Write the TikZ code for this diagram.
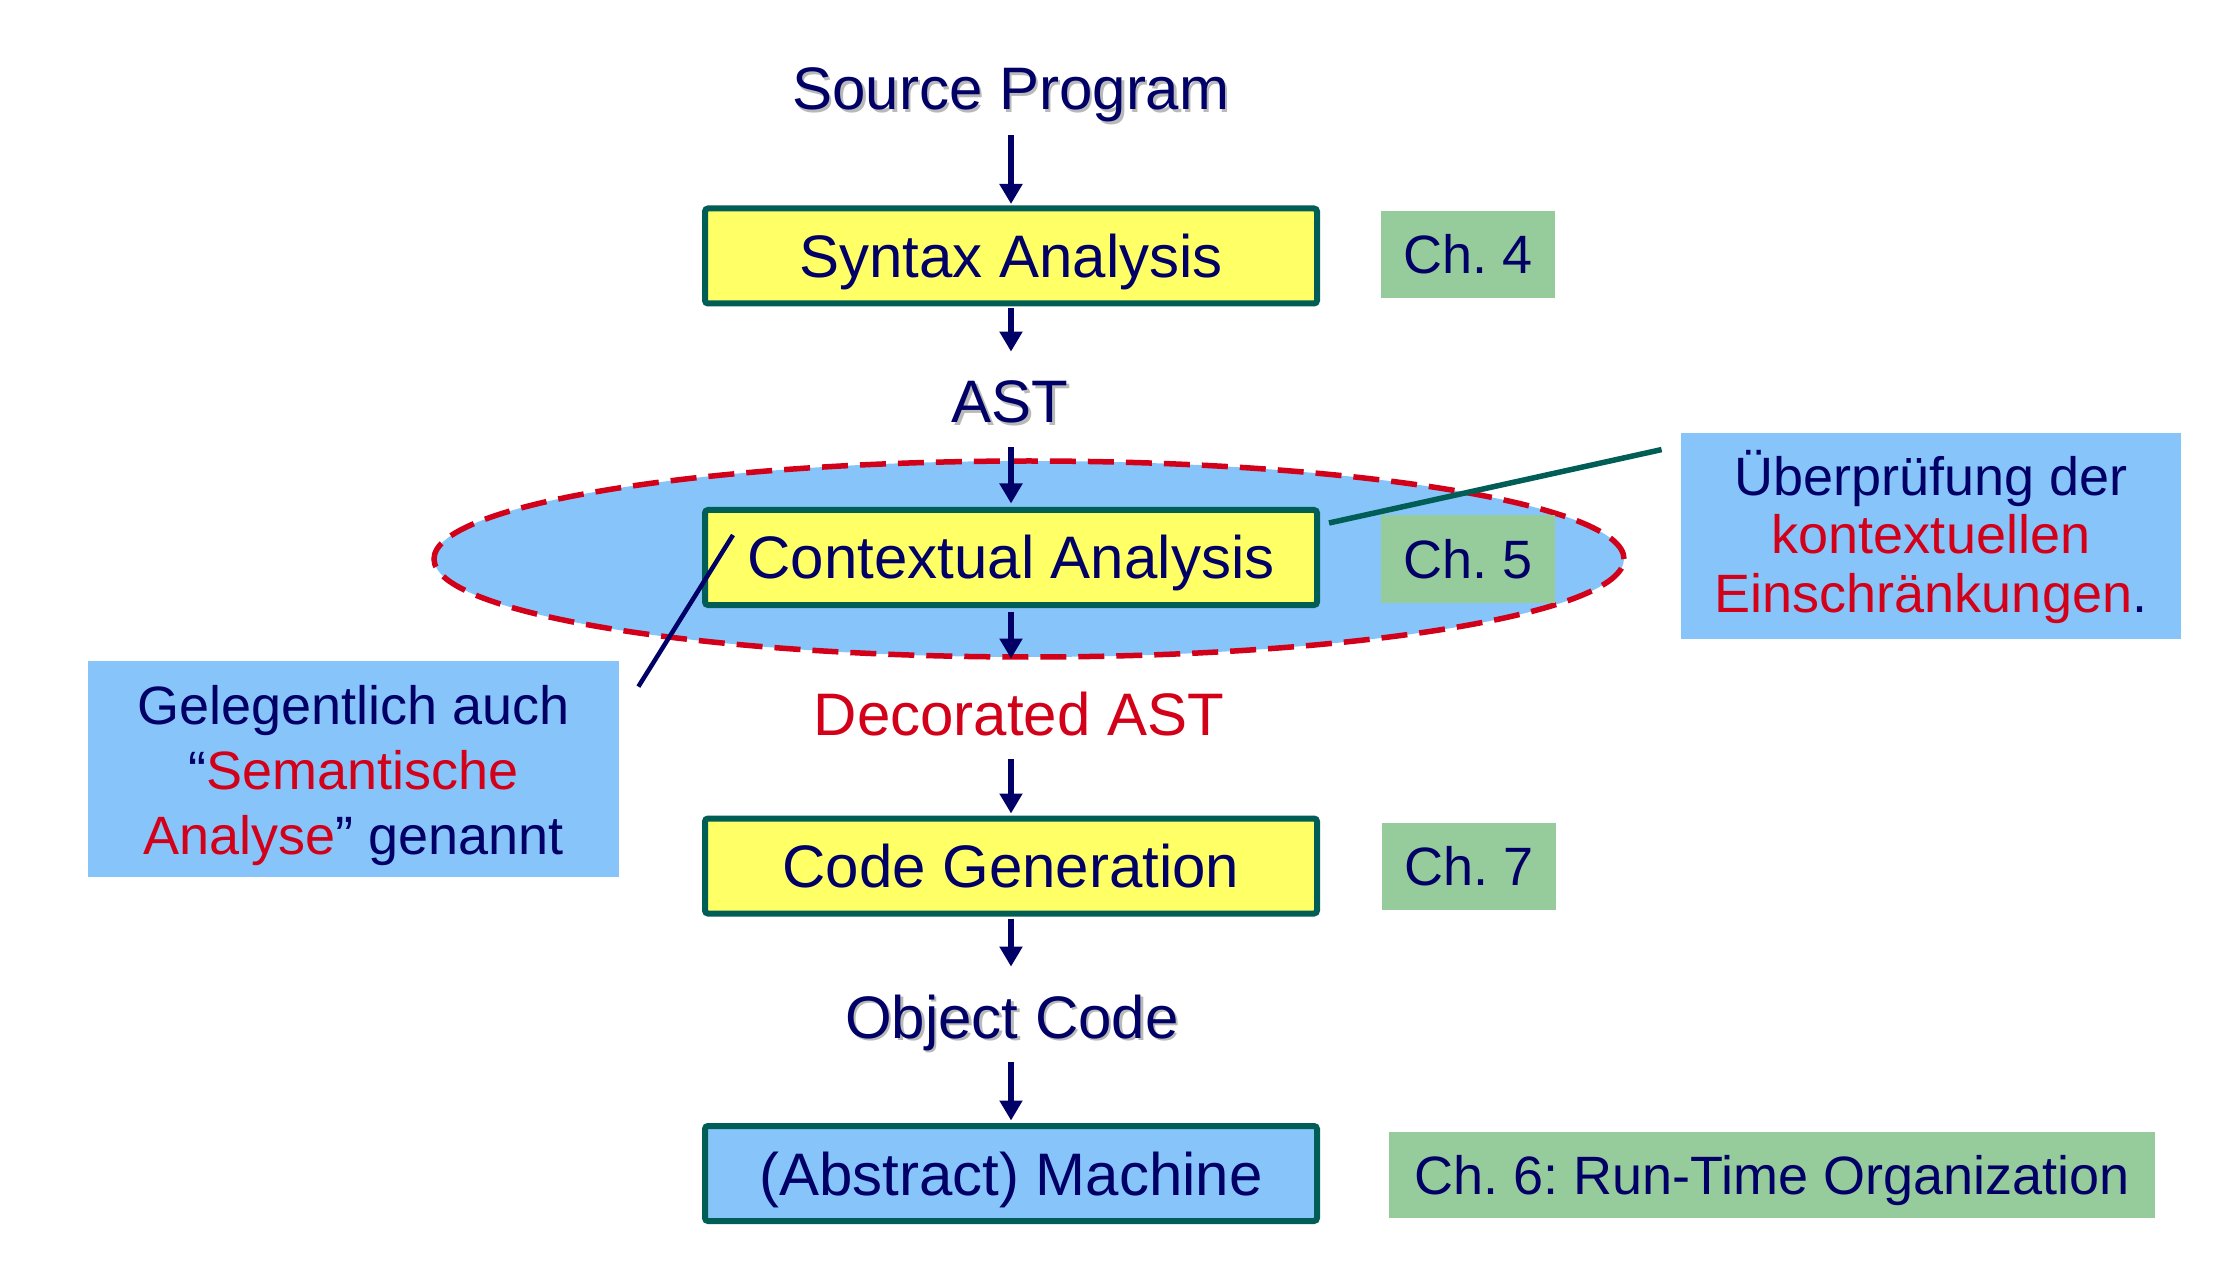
\documentclass[tikz,border=0pt]{standalone}
\usepackage{fontspec}
\setmainfont{Liberation Sans}
\usetikzlibrary{arrows.meta,shapes.geometric}
\definecolor{navy}{RGB}{0,0,102}
\definecolor{boxyellow}{RGB}{255,255,102}
\definecolor{boxteal}{RGB}{0,94,86}
\definecolor{lightblue}{RGB}{134,196,250}
\definecolor{chgreen}{RGB}{150,203,155}
\definecolor{hired}{RGB}{210,0,24}
\definecolor{shadowgray}{RGB}{185,185,185}
\newcommand\shtext[1]{\makebox[0pt][l]{\hspace{1.2pt}\raisebox{-1.2pt}{\textcolor{shadowgray}{#1}}}#1}
\newcommand\calltext[2]{\raisebox{#1}[\height][\depth]{\begin{tabular}{@{}c@{}}#2\end{tabular}}}
\frenchspacing
\begin{document}
\begin{tikzpicture}[x=0.5pt,y=-0.5pt,
  stage/.style={draw=boxteal, line width=3pt, rounded corners=1.5pt,
    minimum width=306pt, minimum height=47.5pt, inner sep=0pt, text=navy,
    font=\fontsize{30}{36}\selectfont, text height=21.5pt, text depth=0pt},
  chbox/.style={fill=chgreen, minimum height=43.5pt, inner sep=0pt, text=navy,
    font=\fontsize{27}{32}\selectfont, text height=19.3pt, text depth=0pt},
  flowlabel/.style={inner sep=0pt, anchor=base, text=navy,
    font=\fontsize{30}{36}\selectfont, text height=22.5pt, text depth=6.6pt},
  callout/.style={fill=lightblue, inner sep=0pt, text=navy},
  flow/.style={draw=navy, line width=3pt, -{Triangle[width=11pt,length=10pt]}},
]
\useasboundingbox (0,0) rectangle (2234,1278);

% highlighted region
\node[ellipse, draw=hired, dash pattern=on 13pt off 6pt, line width=2.75pt,
  fill=lightblue, minimum width=595pt, minimum height=98pt, inner sep=0pt]
  (region) at (1029,559) {};

% flow labels
\node[flowlabel] (src) at (1011,110) {\shtext{Source Program}};
\node[flowlabel] (ast) at (1010,423) {\shtext{AST}};
\node[flowlabel, text=hired] (dec) at (1019,735) {Decorated AST};
\node[flowlabel] (obj) at (1012,1038) {\shtext{Object Code}};

% stages
\node[stage, fill=boxyellow] (syn) at (1011,256) {Syntax Analysis};
\node[stage, fill=boxyellow] (ctx) at (1011,557.5) {Contextual Analysis};
\node[stage, fill=boxyellow] (code) at (1011,866) {Code Generation};
\node[stage, fill=lightblue] (mach) at (1011,1173.5) {(Abstract) Machine};

% chapter boxes
\node[chbox, minimum width=87pt] (ch4) at (1468,254.5) {Ch. 4};
\node[chbox, minimum width=87pt] (ch5) at (1468,559) {Ch. 5};
\node[chbox, minimum width=87pt] (ch7) at (1469,866.5) {Ch. 7};
\node[chbox, minimum width=383pt, minimum height=43pt] (ch6) at (1772,1175) {Ch. 6: Run-Time Organization};

% callouts
\node[callout, minimum width=265.5pt, minimum height=108pt,
  font=\fontsize{27}{32.5}\selectfont] (lcall) at (353.5,769)
  {\calltext{-3.5pt}{Gelegentlich auch\\“\textcolor{hired}{Semantische}\\\textcolor{hired}{Analyse}” genannt}};
\node[callout, minimum width=250pt, minimum height=103pt,
  font=\fontsize{27}{29.25}\selectfont] (rcall) at (1931,536)
  {\calltext{-2pt}{Überprüfung der\\\textcolor{hired}{kontextuellen}\\\textcolor{hired}{Einschränkungen}.}};

% flow arrows
\draw[flow, shorten <=5.9pt, shorten >=0.75pt] (src.south) -- (syn.north);
\draw[flow, shorten <=0.75pt, shorten >=13pt] (syn.south) -- (ast.north -| syn.south);
\draw[flow, shorten <=5.4pt, shorten >=1.75pt] (ast.south -| ctx.north) -- (ctx.north);
\draw[flow, shorten <=1.75pt, shorten >=15.5pt] (ctx.south) -- (ctx.south |- dec.north);
\draw[flow, shorten <=5.4pt, shorten >=1pt] (dec.south -| code.north) -- (code.north);
\draw[flow, shorten <=1pt, shorten >=13pt] (code.south) -- (code.south |- obj.north);
\draw[flow, shorten <=5.4pt, shorten >=1.25pt] (obj.south -| mach.north) -- (mach.north);

% callout connectors
\draw[draw=boxteal, line width=2.75pt]
  ([xshift=4.5pt,yshift=-8pt]ctx.north east) -- ([xshift=-9.5pt,yshift=-8.5pt]rcall.north west);
\draw[draw=navy, line width=2.25pt]
  ([xshift=15.5pt,yshift=-14pt]ctx.north west) -- ([xshift=9.5pt,yshift=-13pt]lcall.north east);
\end{tikzpicture}
\end{document}
